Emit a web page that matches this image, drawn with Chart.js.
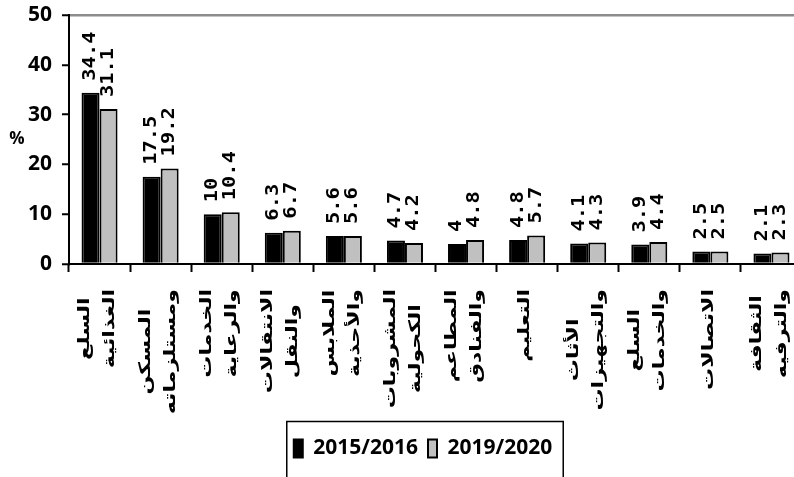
<!DOCTYPE html>
<html lang="ar">
<head>
<meta charset="utf-8">
<title>توزيع الإنفاق</title>
<script src="https://cdn.jsdelivr.net/npm/chart.js@4.4.1/dist/chart.umd.min.js"></script>
<style>
  html, body { margin: 0; padding: 0; background: #fff; overflow: hidden; }
  canvas { display: block; }
</style>
</head>
<body>
<canvas id="chart" width="804" height="477"></canvas>
<script>
/* DATOS */

const categories = [
  ['السلع', 'الغذائية'],
  ['المسكن', 'ومستلزماته'],
  ['الخدمات', 'والرعاية'],
  ['الانتقالات', 'والنقل'],
  ['الملابس', 'والأحذية'],
  ['المشروبات', 'الكحولية'],
  ['المطاعم', 'والفنادق'],
  'التعليم',
  ['الأثاث', 'والتجهيزات'],
  ['السلع', 'والخدمات'],
  'الاتصالات',
  ['الثقافة', 'والترفيه'],
];

const seriesNames = ['2015/2016', '2019/2020'];
const values2015 = [34.4, 17.5, 10, 6.3, 5.6, 4.7, 4, 4.8, 4.1, 3.9, 2.5, 2.1];
const values2019 = [31.1, 19.2, 10.4, 6.7, 5.6, 4.2, 4.8, 5.7, 4.3, 4.4, 2.5, 2.3];
const yTicks = [0, 10, 20, 30, 40, 50];
const yTitle = '%';

/* ESTILOS */

const COLORS = {
  black: '#000000',
  gray:  '#c0c0c0',
  topLine: '#8c8c8c',
};

const LATIN = "'Open Sans', sans-serif";
const ARABIC = "'DejaVu Sans', sans-serif";

// La imagen original está estirada en vertical: el texto girado se alarga
const STRETCH = 1.38;

// Etiquetas de valor giradas encima de cada barra
const valueLabels = {
  id: 'valueLabels',
  afterDatasetsDraw(chart) {
    const ctx = chart.ctx;
    ctx.save();
    ctx.fillStyle = COLORS.black;
    ctx.font = 'bold 17px "DejaVu Sans Mono", monospace';
    ctx.textAlign = 'left';
    ctx.textBaseline = 'middle';
    chart.data.datasets.forEach((ds, di) => {
      chart.getDatasetMeta(di).data.forEach((bar, i) => {
        ctx.save();
        ctx.translate(bar.x, bar.y - 12);
        ctx.rotate(-Math.PI / 2);
        ctx.scale(1.2, 1);
        ctx.fillText(String(ds.data[i]), 0, 0);
        ctx.restore();
      });
    });
    ctx.restore();
  },
};

// Categorías en árabe, giradas y centradas bajo cada grupo de barras
const categoryLabels = {
  id: 'categoryLabels',
  afterDraw(chart) {
    const ctx = chart.ctx;
    const xs = chart.scales.x;
    const lineGap = 25;
    const topY = 289;
    ctx.save();
    ctx.fillStyle = COLORS.black;
    ctx.font = 'bold 16px ' + ARABIC;
    ctx.textAlign = 'center';
    ctx.textBaseline = 'middle';
    categories.forEach((cat, i) => {
      const lines = Array.isArray(cat) ? cat : [cat];
      const maxW = Math.max(...lines.map(t => ctx.measureText(t).width));
      const px = xs.getPixelForValue(i) - 2;
      lines.forEach((t, j) => {
        const cx = px + (j - (lines.length - 1) / 2) * lineGap;
        ctx.save();
        ctx.translate(cx, topY);
        ctx.rotate(-Math.PI / 2);
        ctx.scale(STRETCH, 1);
        ctx.fillText(t, -maxW / 2, 0);
        ctx.restore();
      });
    });
    ctx.restore();
  },
};

// Título "%" sin girar, leyenda desplazada y recuadro de la leyenda
const extras = {
  id: 'extras',
  afterLayout(chart) {
    chart.legend.left += 22;
    chart.legend.right += 22;
  },
  afterDraw(chart) {
    const ctx = chart.ctx;
    const area = chart.chartArea;
    ctx.save();
    ctx.fillStyle = COLORS.black;
    ctx.font = 'bold 17px ' + LATIN;
    ctx.textAlign = 'center';
    ctx.textBaseline = 'middle';
    ctx.fillText(yTitle, 17, (area.top + area.bottom) / 2);

    const lg = chart.legend;
    const pad = lg.options.labels.padding;
    const itemH = Math.max(lg.options.labels.font.size, lg.options.labels.boxHeight);
    const x0 = (lg.left + pad + lg.right - lg.lineWidths[0]) / 2;
    const x1 = x0 + lg.lineWidths[0] - pad;
    const cy = lg.top + pad + itemH / 2;
    ctx.strokeStyle = COLORS.black;
    ctx.lineWidth = 1.5;
    ctx.strokeRect(x0 - 7, cy - 27, (x1 + 11) - (x0 - 7), chart.height - cy + 40);
    ctx.restore();
  },
};

new Chart(document.getElementById('chart'), {
  type: 'bar',
  data: {
    labels: categories,
    datasets: [
      {
        label: seriesNames[0],
        data: values2015,
        backgroundColor: COLORS.black,
        borderColor: COLORS.black,
        borderWidth: 2,
      },
      {
        label: seriesNames[1],
        data: values2019,
        backgroundColor: COLORS.gray,
        borderColor: COLORS.black,
        borderWidth: 2,
      },
    ],
  },
  options: {
    responsive: false,
    animation: false,
    devicePixelRatio: 1,
    layout: { padding: { top: 15, right: 2, bottom: 8, left: 0 } },
    datasets: {
      bar: { categoryPercentage: 0.59, barPercentage: 1.0, borderSkipped: 'start' },
    },
    plugins: {
      tooltip: { enabled: false },
      legend: {
        position: 'bottom',
        labels: {
          color: COLORS.black,
          font: { family: LATIN, size: 21, weight: 'bold' },
          boxWidth: 9,
          boxHeight: 18,
          padding: 10,
        },
      },
    },
    scales: {
      x: {
        afterFit(scale) {
          // Deja el eje X a la misma altura que en la referencia
          scale.height = scale.chart.height - 8 - scale.chart.legend.height - 264;
          scale.paddingLeft = 0;
          scale.paddingRight = 0;
        },
        grid: {
          drawOnChartArea: false,
          drawTicks: true,
          tickLength: 8,
          tickColor: COLORS.black,
          tickWidth: 2,
          color: COLORS.black,
        },
        border: { display: true, color: COLORS.black, width: 2 },
        ticks: { display: false, autoSkip: false },
      },
      y: {
        min: 0,
        max: 50,
        afterFit(scale) {
          scale.width = 69;
          scale.paddingTop = 0;
          scale.paddingBottom = 0;
        },
        afterBuildTicks(scale) { scale.ticks = yTicks.map(v => ({ value: v })); },
        grid: {
          color: (c) => (c.tick && c.tick.value === 50 ? COLORS.topLine : 'rgba(0,0,0,0)'),
          lineWidth: 2.5,
          tickColor: COLORS.black,
          tickWidth: 2,
          tickLength: 7,
        },
        border: { display: true, color: COLORS.black, width: 2 },
        ticks: {
          padding: 10,
          color: COLORS.black,
          font: { family: LATIN, size: 21, weight: 'bold' },
        },
      },
    },
  },
  plugins: [valueLabels, categoryLabels, extras],
});
</script>
</body>
</html>
